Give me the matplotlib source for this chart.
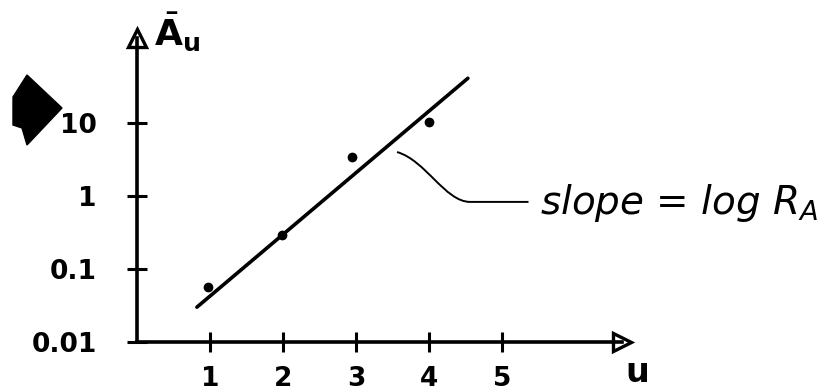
import matplotlib
matplotlib.use("Agg")
import matplotlib.pyplot as plt
from matplotlib.patches import Polygon, PathPatch
from matplotlib.path import Path

# data
u_points = [0.97, 1.98, 2.95, 4.0]
A_points = [0.057, 0.29, 3.4, 10.2]
fit_u = [0.82, 4.53]
fit_A = [0.030, 41.0]
x_ticks = [1, 2, 3, 4, 5]
x_tick_labels = ["1", "2", "3", "4", "5"]
y_ticks = [0.01, 0.1, 1, 10]
y_tick_labels = ["0.01", "0.1", "1", "10"]
annot_text = "slope = log $R_A$"
annot_text_xy = (5.52, 0.80)
# leader curve (cubic Bezier + straight tail), in data units
leader_u = [3.56, 3.95, 4.22, 4.56, 5.36]
leader_A = [4.0, 3.1, 0.83, 0.83, 0.83]

W, H = 831, 391
fig = plt.figure(figsize=(W / 100, H / 100), dpi=100)
ax = fig.add_axes([137 / W, (H - 342) / H, (622 - 137) / W, (342 - 38) / H])
ax.set_yscale("log")
ax.set_xlim(0, 6.64)
ax.set_ylim(0.01, 146)

for s in ["top", "right"]:
    ax.spines[s].set_visible(False)
for s in ["left", "bottom"]:
    ax.spines[s].set_linewidth(2.6)

ax.set_xticks(x_ticks)
ax.set_xticklabels(x_tick_labels)
ax.set_yticks(y_ticks)
ax.set_yticklabels(y_tick_labels)
ax.minorticks_off()
ax.tick_params(axis="both", direction="inout", length=14, width=2.2,
               labelsize=19)
ax.tick_params(axis="x", pad=10)
ax.tick_params(axis="y", pad=22)
for lab in ax.get_xticklabels() + ax.get_yticklabels():
    lab.set_fontweight("bold")

# arrowheads
ax.plot([0], [1], marker="^", markersize=13, markerfacecolor="white",
        markeredgecolor="black", markeredgewidth=2.4,
        transform=ax.transAxes, clip_on=False)
ax.plot([1], [0], marker=">", markersize=13, markerfacecolor="white",
        markeredgecolor="black", markeredgewidth=2.4,
        transform=ax.transAxes, clip_on=False)

# fit line and points
ax.plot(fit_u, fit_A, color="black", linewidth=2.6, solid_capstyle="round")
ax.plot(u_points, A_points, "o", color="black", markersize=6)

# axis labels
ax.text(0.035, 1.02, r"$\bar{\mathbf{A}}_{\mathbf{u}}$", transform=ax.transAxes,
        fontsize=26, ha="left", va="center")
ax.text(1.03, -0.10, r"$\mathbf{u}$", transform=ax.transAxes,
        fontsize=24, ha="center", va="center")

# annotation
ax.text(annot_text_xy[0], annot_text_xy[1], annot_text, fontsize=28,
        style="italic", ha="left", va="center", clip_on=False)
verts = list(zip(leader_u, leader_A))
codes = [Path.MOVETO, Path.CURVE4, Path.CURVE4, Path.CURVE4, Path.LINETO]
ax.add_patch(PathPatch(Path(verts, codes), facecolor="none",
                       edgecolor="black", linewidth=1.4, clip_on=False))

# black marker blob at left margin
blob = [(13, 97), (27, 75), (62, 108), (27, 145), (22, 128), (13, 125)]
fig.patches.append(Polygon([(x / W, 1 - y / H) for x, y in blob], closed=True,
                           facecolor="black", edgecolor="black",
                           transform=fig.transFigure, figure=fig))

fig.savefig("out.png", dpi=100)
